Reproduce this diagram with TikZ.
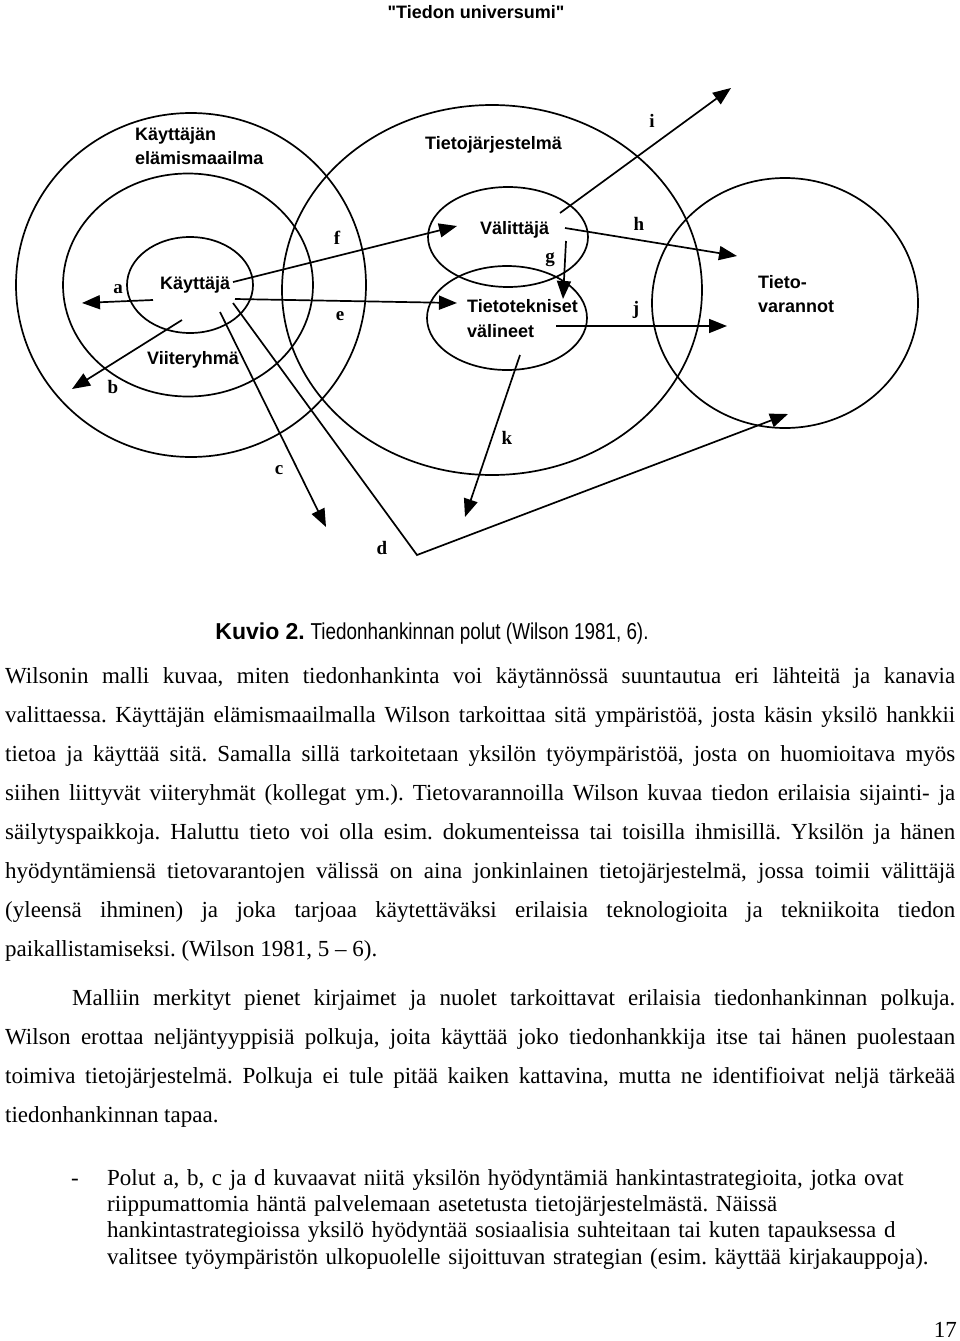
\documentclass[tikz,border=0pt]{standalone}
\usepackage{fontspec}
\setmainfont{Liberation Serif}
\setsansfont{Liberation Sans}
\newfontfamily\narrowsans[FakeStretch=0.82]{Liberation Sans}
\newfontfamily\titlesans[Ligatures=TeXOff]{Liberation Sans}
\usepackage{tikz}
\usetikzlibrary{
	shapes.geometric,
	arrows.meta,
	positioning
}
\frenchspacing

\begin{document}
\begin{tikzpicture}[
    x=1pt, y=-1pt,
    ring/.style={ellipse, draw, line width=1.7pt, inner sep=0pt},
    place/.style={font=\sffamily\bfseries\fontsize{18}{24}\selectfont, align=left, anchor=west, inner sep=0pt},
    pathletter/.style={font=\bfseries\fontsize{19}{19}\selectfont, inner sep=0pt},
    arrow/.style={line width=1.7pt, -{Triangle[length=18pt,width=14pt]}},
    body/.style={font=\fontsize{23}{39}\selectfont, text width=950pt, align=justify, anchor=base west, inner sep=0pt}
]
\useasboundingbox (0,0) rectangle (960,1341);

% Title
\node[font=\titlesans\bfseries\fontsize{18}{22}\selectfont, inner sep=0pt] (title) at (476,12) {"Tiedon universumi"};

% Circles
\node[ring, minimum width=350pt, minimum height=344pt] (lifeworld) at (191,285) {};
\node[ring, minimum width=250pt, minimum height=223pt] (refgroup) at (188,285) {};
\node[ring, minimum width=126pt, minimum height=96pt] (user) at (190,285) {};
\node[ring, minimum width=420pt, minimum height=370pt] (infosystem) at (492,290) {};
\node[ring, minimum width=160pt, minimum height=100pt] (mediator) at (508,237) {};
\node[ring, minimum width=160pt, minimum height=104pt] (tools) at (507,318) {};
\node[ring, minimum width=266pt, minimum height=250pt] (resources) at (785,303) {};

% Labels
\node[place] (lifeworld-text) at (135,146) {Käyttäjän\\elämismaailma};
\node[place] (infosystem-text) at (425,145) {Tietojärjestelmä};
\node[place] (user-text) at (160,285) {Käyttäjä};
\node[place] (refgroup-text) at (147,360) {Viiteryhmä};
\node[place] (mediator-text) at (480,230) {Välittäjä};
\node[place, font=\sffamily\bfseries\fontsize{18}{25}\selectfont] (tools-text) at (467,319) {Tietotekniset\\välineet};
\node[place] (resources-text) at (758,294) {Tieto-\\varannot};

% Path letters
\node[pathletter] (la) at (118,289) {a};
\node[pathletter] (lb) at (113,387) {b};
\node[pathletter] (lc) at (279,470) {c};
\node[pathletter] (ld) at (382,548) {d};
\node[pathletter] (le) at (340,316) {e};
\node[pathletter] (lf) at (337,238) {f};
\node[pathletter] (lg) at (550,260) {g};
\node[pathletter] (lh) at (639,224) {h};
\node[pathletter] (li) at (652,121) {i};
\node[pathletter] (lj) at (636,310) {j};
\node[pathletter] (lk) at (507,438) {k};

% Path ends
\coordinate (a-from) at (153,300);  \coordinate (a-to) at (82,303);
\coordinate (b-from) at (182,320);  \coordinate (b-to) at (72,389);
\coordinate (c-from) at (220,312);  \coordinate (c-to) at (326,527);
\coordinate (d-from) at (233,303);  \coordinate (d-bend) at (417,555);
\coordinate (d-to) at (788,414);
\coordinate (e-from) at (235,299);  \coordinate (e-to) at (457,303);
\coordinate (f-from) at (233,282);  \coordinate (f-to) at (457,226);
\coordinate (g-from) at (566,241);  \coordinate (g-to) at (563,299);
\coordinate (h-from) at (565,228);  \coordinate (h-to) at (737,256);
\coordinate (i-from) at (560,213);  \coordinate (i-to) at (731,88);
\coordinate (j-from) at (556,326);  \coordinate (j-to) at (727,326);
\coordinate (k-from) at (520,355);  \coordinate (k-to) at (465,517);

% Arrows
\draw[arrow] (a-from) -- (a-to);
\draw[arrow] (b-from) -- (b-to);
\draw[arrow] (c-from) -- (c-to);
\draw[arrow] (d-from) -- (d-bend) -- (d-to);
\draw[arrow] (e-from) -- (e-to);
\draw[arrow] (f-from) -- (f-to);
\draw[arrow] (g-from) -- (g-to);
\draw[arrow] (h-from) -- (h-to);
\draw[arrow] (i-from) -- (i-to);
\draw[arrow] (j-from) -- (j-to);
\draw[arrow] (k-from) -- (k-to);

% Caption and text
\node[anchor=base, inner sep=0pt, font=\fontsize{23}{28}\selectfont] (caption) at (432,639)
  {{\sffamily\bfseries Kuvio 2.} {\narrowsans Tiedonhankinnan polut (Wilson 1981, 6).}};

\node[body] (para1) at (5,683) {Wilsonin malli kuvaa, miten tiedonhankinta voi käytännössä suuntautua eri lähteitä ja kanavia\linebreak
valittaessa. Käyttäjän elämismaailmalla Wilson tarkoittaa sitä ympäristöä, josta käsin yksilö hankkii\linebreak
tietoa ja käyttää sitä. Samalla sillä tarkoitetaan yksilön työympäristöä, josta on huomioitava myös\linebreak
siihen liittyvät viiteryhmät (kollegat ym.). Tietovarannoilla Wilson kuvaa tiedon erilaisia sijainti- ja\linebreak
säilytyspaikkoja. Haluttu tieto voi olla esim. dokumenteissa tai toisilla ihmisillä. Yksilön ja hänen\linebreak
hyödyntämiensä tietovarantojen välissä on aina jonkinlainen tietojärjestelmä, jossa toimii välittäjä\linebreak
(yleensä ihminen) ja joka tarjoaa käytettäväksi erilaisia teknologioita ja tekniikoita tiedon\linebreak
paikallistamiseksi. (Wilson 1981, 5 – 6).};

\node[body] (para2) at (5,1005) {\hspace*{67pt}Malliin merkityt pienet kirjaimet ja nuolet tarkoittavat erilaisia tiedonhankinnan polkuja.\linebreak
Wilson erottaa neljäntyyppisiä polkuja, joita käyttää joko tiedonhankkija itse tai hänen puolestaan\linebreak
toimiva tietojärjestelmä. Polkuja ei tule pitää kaiken kattavina, mutta ne identifioivat neljä tärkeää\linebreak
tiedonhankinnan tapaa.};

\node[anchor=base, inner sep=0pt, font=\fontsize{23}{26}\selectfont] (dash) at (75,1185) {-};
\node[anchor=base west, inner sep=0pt, text width=850pt, align=left, font=\fontsize{23}{26.45}\selectfont] (bullet) at (107,1185)
  {Polut a, b, c ja d kuvaavat niitä yksilön hyödyntämiä hankintastrategioita, jotka ovat\\
riippumattomia häntä palvelemaan asetetusta tietojärjestelmästä. Näissä\\
hankintastrategioissa yksilö hyödyntää sosiaalisia suhteitaan tai kuten tapauksessa d\\
valitsee työympäristön ulkopuolelle sijoittuvan strategian (esim. käyttää kirjakauppoja).};

\node[anchor=base east, inner sep=0pt, font=\fontsize{23}{26}\selectfont] (pagenum) at (957,1337) {17};

\end{tikzpicture}
\end{document}
